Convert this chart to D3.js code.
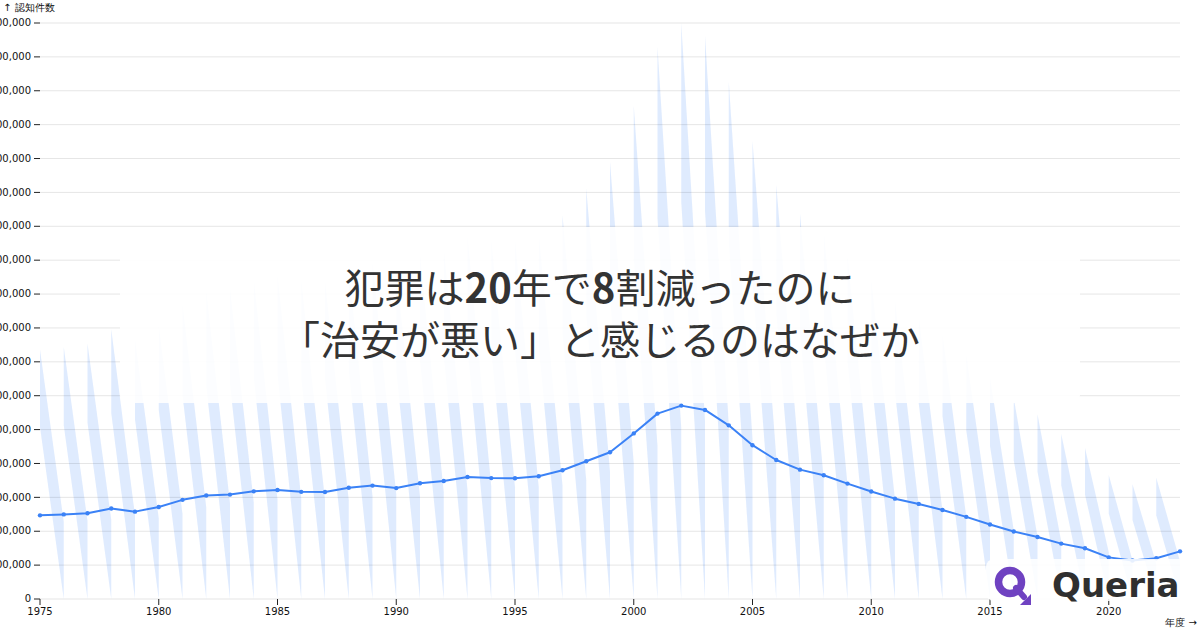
<!DOCTYPE html>
<html><head><meta charset="utf-8">
<script src="https://cdn.jsdelivr.net/npm/d3@7"></script>
<style>html,body{margin:0;padding:0;background:#fff;}svg{display:block;}</style>
</head><body>
<svg id="c" width="1200" height="630"></svg>
<script>
// 刑法犯 認知件数（年度）
const years = [1975,1976,1977,1978,1979,1980,1981,1982,1983,1984,1985,1986,1987,1988,1989,1990,1991,1992,1993,1994,1995,1996,1997,1998,1999,2000,2001,2002,2003,2004,2005,2006,2007,2008,2009,2010,2011,2012,2013,2014,2015,2016,2017,2018,2019,2020,2021,2022,2023];
const counts = [1234307,1248354,1265495,1336255,1289140,1357461,1463228,1528160,1540889,1588592,1607697,1581411,1577954,1641310,1673268,1636628,1707877,1742366,1801150,1784432,1782944,1812119,1899564,2033546,2165626,2443470,2735612,2853739,2790136,2562767,2269572,2050850,1908836,1826800,1703044,1585856,1480760,1403167,1314140,1212163,1098969,996120,915042,817338,748559,614231,568104,601331,703351];
const yTicks = d3.range(0, 8500001, 500000);
const xTicks = [1975,1980,1985,1990,1995,2000,2005,2010,2015,2020];
const yLabel = "↑ 認知件数";
const xLabel = "年度 →";
const titleLine1 = [["犯罪は",400],["20",700],["年で",400],["8",700],["割減ったのに",400]];
const titleLine2 = "「治安が悪い」と感じるのはなぜか";
const brand = "Queria";

const svg = d3.select("#c");
const L = 40, R = 1180, T = 23, B = 599;
const x = d3.scaleLinear().domain([1975, 2023]).range([L, R]);
const y = d3.scaleLinear().domain([0, 8500000]).range([B, T]);
const y2 = d3.scaleLinear().domain([0, d3.max(counts)]).range([B, T]);
const blue = "#3b82f6";
const axisFont = "'DejaVu Sans', sans-serif";

svg.append("defs").append("clipPath").attr("id","plot")
  .append("rect").attr("x",L).attr("y",0).attr("width",R-L).attr("height",B);

// decorative stripes
const k = 0.31;
const stripes = svg.append("g").attr("clip-path","url(#plot)");
years.forEach((yr,i) => {
  const v = counts[i];
  const pts = [
    [x(yr), y2(v)], [x(yr+1), y2(k*v)], [x(yr+1), y2(0)], [x(yr), y2((1-k)*v)]
  ];
  stripes.append("path").attr("d", "M" + pts.join("L") + "Z")
    .attr("fill", blue).attr("fill-opacity", 0.16);
});

// grid
svg.append("g").selectAll("line").data(yTicks).join("line")
  .attr("x1", L).attr("x2", R).attr("y1", d=>y(d)).attr("y2", d=>y(d))
  .attr("stroke","#000").attr("stroke-opacity",0.1);

// y axis
const ya = svg.append("g").attr("font-family",axisFont).attr("font-size",10).attr("fill","#111");
ya.selectAll("line").data(yTicks).join("line")
  .attr("x1",L-6).attr("x2",L).attr("y1",d=>y(d)).attr("y2",d=>y(d)).attr("stroke","#222");
ya.selectAll("text").data(yTicks).join("text")
  .attr("x",L-9).attr("y",d=>y(d)).attr("dy","0.32em").attr("text-anchor","end")
  .text(d=>d3.format(",")(d));
ya.append("text").attr("x",3).attr("y",10.5).attr("text-anchor","start").text(yLabel);

// x axis
const xa = svg.append("g").attr("font-family",axisFont).attr("font-size",10).attr("fill","#111");
xa.selectAll("line").data(xTicks).join("line")
  .attr("x1",d=>x(d)).attr("x2",d=>x(d)).attr("y1",B).attr("y2",B+6).attr("stroke","#222");
xa.selectAll("text").data(xTicks).join("text")
  .attr("x",d=>x(d)).attr("y",B+9).attr("dy","0.71em").attr("text-anchor","middle")
  .text(d=>d);
xa.append("text").attr("x",1197).attr("y",626).attr("text-anchor","end").text(xLabel);

// line
const line = d3.line().x((d,i)=>x(years[i])).y(d=>y(d));
svg.append("path").attr("d", line(counts)).attr("fill","none")
  .attr("stroke",blue).attr("stroke-width",2).attr("stroke-linejoin","round");
svg.append("g").selectAll("circle").data(counts).join("circle")
  .attr("cx",(d,i)=>x(years[i])).attr("cy",d=>y(d)).attr("r",2.2).attr("fill",blue);

// title overlay
svg.append("rect").attr("x",120).attr("y",227).attr("width",960).attr("height",176)
  .attr("rx",8).attr("fill","#fff").attr("fill-opacity",0.9);
const tf = "'Noto Sans CJK JP', 'Noto Sans', sans-serif";
const t1 = svg.append("text").attr("x",600).attr("y",303).attr("text-anchor","middle")
  .attr("font-family",tf).attr("font-size",40).attr("fill","#333");
titleLine1.forEach(([s,w]) => t1.append("tspan").attr("font-weight",w).text(s));
svg.append("text").attr("x",600).attr("y",355).attr("text-anchor","middle")
  .attr("font-family",tf).attr("font-size",40).attr("fill","#333").text(titleLine2);

// brand
svg.append("rect").attr("x",986).attr("y",559).attr("width",206).attr("height",42)
  .attr("rx",8).attr("fill","#fff").attr("fill-opacity",0.88);
const logo = svg.append("g");
logo.append("circle").attr("cx",1010).attr("cy",582).attr("r",11.5)
  .attr("fill","none").attr("stroke","#6f42c1").attr("stroke-width",7.5);
logo.append("path").attr("d","M1016,588 L1024,597")
  .attr("stroke","#6f42c1").attr("stroke-width",6).attr("stroke-linecap","round");
logo.append("path").attr("d","M1031,594 L1031,605 L1020,605 Z").attr("fill","#6f42c1");
svg.append("text").attr("x",1052).attr("y",597).attr("font-family","'DejaVu Sans', sans-serif")
  .attr("font-weight",700).attr("font-size",34).attr("fill","#2f2f2f").text(brand);
</script>
</body></html>
